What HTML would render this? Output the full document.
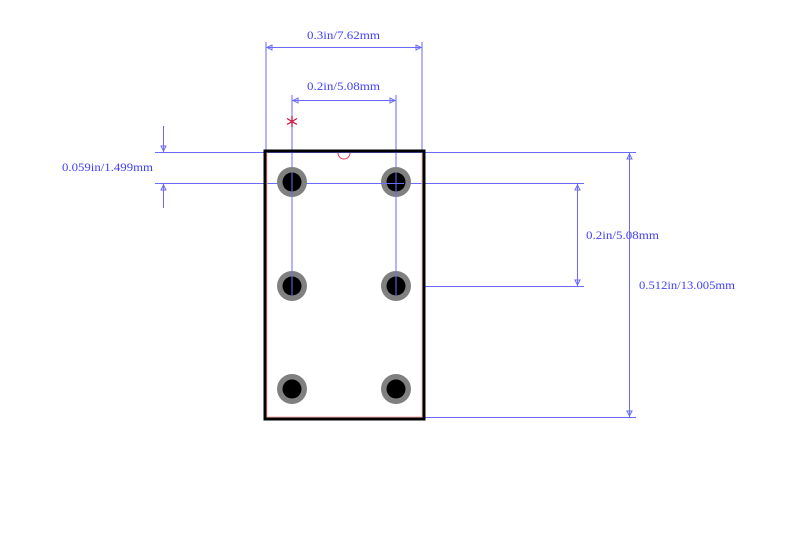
<!DOCTYPE html>
<html><head><meta charset="utf-8"><style>
html,body{margin:0;padding:0;background:#fff;width:800px;height:546px;overflow:hidden}
text{font-family:"Liberation Serif","Noto Serif CJK SC",serif;font-size:12px;fill:#4040ff}
</style></head><body>
<svg width="800" height="546" viewBox="0 0 800 546" xmlns="http://www.w3.org/2000/svg">
<g stroke="#6a6aff" stroke-width="1" fill="none">
<line x1="266" y1="42" x2="266" y2="150"/>
<line x1="422" y1="42" x2="422" y2="150"/>
<line x1="266" y1="47.5" x2="422" y2="47.5"/>
<line x1="292" y1="95" x2="292" y2="182"/>
<line x1="396" y1="95" x2="396" y2="182"/>
<line x1="292" y1="100.5" x2="396" y2="100.5"/>
<line x1="292" y1="182" x2="292" y2="286"/>
<line x1="396" y1="182" x2="396" y2="286"/>
<line x1="155" y1="152.5" x2="636" y2="152.5"/>
<line x1="155" y1="183.5" x2="584" y2="183.5"/>
<line x1="163.5" y1="126" x2="163.5" y2="152"/>
<line x1="163.5" y1="184" x2="163.5" y2="208"/>
<line x1="424" y1="286.5" x2="584" y2="286.5"/>
<line x1="577.5" y1="183" x2="577.5" y2="286"/>
<line x1="424" y1="417.5" x2="636" y2="417.5"/>
<line x1="629.5" y1="152" x2="629.5" y2="417"/>
<path d="M267 47.5 L272 45 L272 50 Z M421 47.5 L416 45 L416 50 Z M293 100.5 L298 98 L298 103 Z M395 100.5 L390 98 L390 103 Z"/>
<path d="M163.5 151 L161 146 L166 146 Z M163.5 185 L161 190 L166 190 Z"/>
<path d="M577.5 185 L575 190 L580 190 Z M577.5 285 L575 280 L580 280 Z M629.5 154 L627 159 L632 159 Z M629.5 416 L627 411 L632 411 Z"/>
</g>
<rect x="267" y="152" width="155" height="265" fill="none" stroke="#ffb0b0" stroke-width="1"/>
<rect x="265" y="151" width="159" height="268" fill="none" stroke="#000" stroke-width="3"/>
<path d="M338 153 A6 6 0 0 0 350 153" fill="none" stroke="#e04060" stroke-width="1"/>
<g>
<circle cx="292" cy="182" r="15" fill="#808080"/><circle cx="292" cy="182" r="9.5" fill="#000"/>
<circle cx="396" cy="182" r="15" fill="#808080"/><circle cx="396" cy="182" r="9.5" fill="#000"/>
<circle cx="292" cy="286" r="15" fill="#808080"/><circle cx="292" cy="286" r="9.5" fill="#000"/>
<circle cx="396" cy="286" r="15" fill="#808080"/><circle cx="396" cy="286" r="9.5" fill="#000"/>
<circle cx="292" cy="389" r="15" fill="#808080"/><circle cx="292" cy="389" r="9.5" fill="#000"/>
<circle cx="396" cy="389" r="15" fill="#808080"/><circle cx="396" cy="389" r="9.5" fill="#000"/>
</g>
<g stroke="#6a6aff" stroke-width="1">
<line x1="292" y1="172" x2="292" y2="296"/><line x1="396" y1="172" x2="396" y2="296"/>
<line x1="344" y1="183.5" x2="404" y2="183.5"/>
</g>
<g stroke="#cc1040" stroke-width="1.3">
<line x1="292" y1="116" x2="292" y2="127"/>
<line x1="287" y1="118.5" x2="297" y2="124.5"/>
<line x1="297" y1="118.5" x2="287" y2="124.5"/>
</g>
<text x="307" y="39" textLength="73" lengthAdjust="spacingAndGlyphs">0.3in/7.62mm</text>
<text x="307" y="90" textLength="73" lengthAdjust="spacingAndGlyphs">0.2in/5.08mm</text>
<text x="62" y="171" textLength="91" lengthAdjust="spacingAndGlyphs">0.059in/1.499mm</text>
<text x="586" y="239" textLength="73" lengthAdjust="spacingAndGlyphs">0.2in/5.08mm</text>
<text x="639" y="289" textLength="96" lengthAdjust="spacingAndGlyphs">0.512in/13.005mm</text>
</svg>
</body></html>
